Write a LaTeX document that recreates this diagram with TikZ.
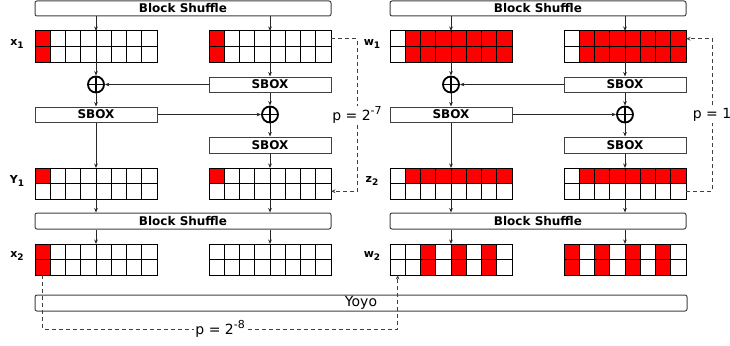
\documentclass[tikz,border=0pt]{standalone}
\usepackage{fontspec}
\setmainfont{DejaVu Sans}
\usetikzlibrary{arrows.meta,calc}
\tikzset{
  boxline/.style={draw=black!75, line width=1pt, fill=white},
  shufflebox/.style={boxline, rounded corners=2pt, minimum height=15pt, inner sep=0pt, font=\fontsize{12}{12}\selectfont\bfseries},
  sboxbox/.style={boxline, minimum width=122pt, minimum height=15pt, inner sep=0pt, font=\fontsize{12}{12}\selectfont\bfseries},
  gridbox/.style={minimum width=122pt, minimum height=31pt, inner sep=0pt, outer sep=0pt},
  gridline/.style={draw=black, line width=1pt},
  flow/.style={draw=black!85, line width=0.75pt, -{Stealth[length=4.5pt,width=3.6pt]}},
  probarrow/.style={draw=black!75, line width=0.85pt, dash pattern=on 4pt off 3pt, -{Stealth[length=4.5pt,width=3.6pt]}},
  plabel/.style={fill=white, inner sep=1pt, font=\fontsize{14}{14}\selectfont},
  xorsym/.style={circle, draw=black, line width=1.8pt, minimum size=16pt, inner sep=0pt,
    path picture={\draw[line width=1.8pt] (path picture bounding box.north) -- (path picture bounding box.south)
      (path picture bounding box.west) -- (path picture bounding box.east);}},
  vlabel/.style={font=\fontsize{11}{11}\selectfont\bfseries},
}
\newcommand{\supnum}[1]{\raisebox{5.5pt}{\fontsize{11}{11}\selectfont #1}}
\newcommand{\subnum}[1]{\raisebox{-3pt}{\fontsize{9}{9}\selectfont #1}}
\newcommand{\cellgrid}[5]{%
  \node[gridbox] (#1) at ({#2+61},{#3+15.5}) {};
  \foreach \c in {#4}{\ifnum\c>-1 \fill[red] ({#2+\c*15.25},#3) rectangle ++(15.25,15.5);\fi}
  \foreach \c in {#5}{\ifnum\c>-1 \fill[red] ({#2+\c*15.25},{#3+15.5}) rectangle ++(15.25,15.5);\fi}
  \draw[gridline] (#2,#3) rectangle ++(122,31);
  \draw[gridline] (#2,{#3+15.5}) -- ++(122,0);
  \foreach \c in {1,...,7}{\draw[gridline] ({#2+\c*15.25},#3) -- ++(0,31);}
}
\newcommand{\roundpart}[2]{%
  \node[shufflebox, minimum width=296pt] (#1bs1) at ({#2+183},8.5) {Block Shuffle};
  \node[sboxbox] (#1sb1) at ({#2+270},84.5) {SBOX};
  \node[xorsym] (#1xa) at ({#2+96},84.5) {};
  \node[sboxbox] (#1sb2) at ({#2+96},114.5) {SBOX};
  \node[xorsym] (#1xb) at ({#2+270},114.5) {};
  \node[sboxbox, minimum height=16pt] (#1sb3) at ({#2+270},145) {SBOX};
  \node[shufflebox, minimum width=296pt, minimum height=16pt] (#1bs2) at ({#2+183},221) {Block Shuffle};
  \draw[flow] (#1bs1.south -| #1g1a.north) -- (#1g1a.north);
  \draw[flow] (#1bs1.south -| #1g1b.north) -- (#1g1b.north);
  \draw[flow] (#1g1a.south) -- (#1xa.north);
  \draw[flow] (#1g1b.south) -- (#1sb1.north);
  \draw[flow] (#1sb1.west) -- (#1xa.east);
  \draw[flow] (#1xa.south) -- (#1sb2.north);
  \draw[flow] (#1sb1.south) -- (#1xb.north);
  \draw[flow] (#1sb2.east) -- (#1xb.west);
  \draw[flow] (#1xb.south) -- (#1sb3.north);
  \draw[flow] (#1sb2.south) -- (#1g2a.north);
  \draw[flow] (#1sb3.south) -- (#1g2b.north);
  \draw[flow] (#1g2a.south) -- (#1bs2.north -| #1g2a.south);
  \draw[flow] (#1g2b.south) -- (#1bs2.north -| #1g2b.south);
  \draw[flow] (#1bs2.south -| #1g3a.north) -- (#1g3a.north);
  \draw[flow] (#1bs2.south -| #1g3b.north) -- (#1g3b.north);
}
\begin{document}
\begin{tikzpicture}[x=1pt,y=-1pt]
\useasboundingbox (0,0) rectangle (730,345);
% grids, left half
\cellgrid{Lg1a}{35}{31}{0}{0}
\cellgrid{Lg1b}{209}{31}{0}{0}
\cellgrid{Lg2a}{35}{168}{0}{-1}
\cellgrid{Lg2b}{209}{168}{0}{-1}
\cellgrid{Lg3a}{35}{244}{0}{0}
\cellgrid{Lg3b}{209}{244}{-1}{-1}
% grids, right half
\cellgrid{Rg1a}{390}{31}{1,...,7}{1,...,7}
\cellgrid{Rg1b}{564}{31}{1,...,7}{1,...,7}
\cellgrid{Rg2a}{390}{168}{1,...,7}{-1}
\cellgrid{Rg2b}{564}{168}{1,...,7}{-1}
\cellgrid{Rg3a}{390}{244}{2,4,6}{2,4,6}
\cellgrid{Rg3b}{564}{244}{0,2,4,6}{0,2,4,6}
% boxes and flow
\roundpart{L}{0}
\roundpart{R}{355}
% state labels
\node[vlabel] (lx1) at (17,44) {x\subnum{1}};
\node[vlabel] (ly1) at (17,181) {Y\subnum{1}};
\node[vlabel] (lx2) at (17,256) {x\subnum{2}};
\node[vlabel] (lw1) at (372,44) {w\subnum{1}};
\node[vlabel] (lz2) at (372,181) {z\subnum{2}};
\node[vlabel] (lw2) at (372,256) {w\subnum{2}};
% yoyo
\node[shufflebox, minimum width=652pt, minimum height=16pt, font=\fontsize{14}{14}\selectfont] (yoyo) at (361,303) {Yoyo};
% probability connectors
\coordinate (p7a) at (357,38.75);
\coordinate (p7b) at (357,191.25);
\draw[probarrow] ([yshift=7.75pt]Lg1b.east) -- (p7a) -- node[plabel]{p = 2\supnum{-7}} (p7b) -- ([yshift=-7.75pt]Lg2b.east);
\coordinate (p1a) at (712,191.25);
\coordinate (p1b) at (712,38.75);
\draw[probarrow] ([yshift=-7.75pt]Rg2b.east) -- (p1a) -- node[plabel]{p = 1} (p1b) -- ([yshift=7.75pt]Rg1b.east);
\coordinate (q1) at (42.625,329);
\coordinate (q2) at (397.625,329);
\draw[probarrow] ([xshift=-53.375pt]Lg3a.south) -- (q1) -- node[plabel]{p = 2\supnum{-8}} (q2) -- ([xshift=-53.375pt]Rg3a.south);
\end{tikzpicture}
\end{document}
